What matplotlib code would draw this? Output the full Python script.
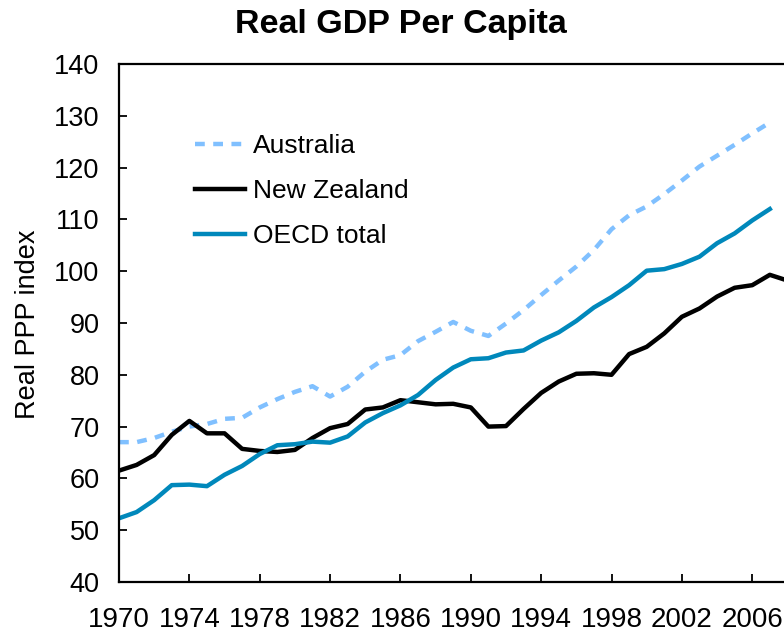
import numpy as np
import matplotlib
matplotlib.use('Agg')
import matplotlib.pyplot as plt

plt.rcParams['font.family'] = ['Liberation Sans', 'DejaVu Sans']

# Data (index values)
years_nz = list(range(1970, 2009))
new_zealand = [61.5, 62.6, 64.5, 68.4, 71.1, 68.7, 68.7, 65.7, 65.3, 65.1,
               65.5, 67.8, 69.7, 70.5, 73.3, 73.7, 75.1, 74.7, 74.3, 74.4,
               73.7, 70.0, 70.1, 73.4, 76.5, 78.7, 80.2, 80.3, 80.0, 84.0,
               85.4, 88.0, 91.2, 92.8, 95.1, 96.8, 97.3, 99.3, 98.2]

years = list(range(1970, 2008))
australia = [67.0, 67.0, 67.8, 69.0, 70.0, 70.5, 71.5, 71.7, 73.7, 75.3,
             76.7, 77.8, 75.8, 77.7, 80.6, 82.9, 83.8, 86.5, 88.3, 90.2,
             88.5, 87.5, 89.9, 92.5, 95.4, 98.2, 100.9, 104.1, 108.1, 110.8,
             112.5, 114.9, 117.5, 120.2, 122.3, 124.4, 126.6, 128.7]
oecd = [52.3, 53.5, 55.8, 58.7, 58.8, 58.5, 60.7, 62.4, 64.7, 66.4,
        66.6, 67.1, 66.9, 68.1, 70.8, 72.6, 74.1, 76.1, 79.0, 81.4,
        83.0, 83.2, 84.3, 84.7, 86.6, 88.2, 90.4, 93.0, 95.0, 97.3,
        100.1, 100.4, 101.4, 102.8, 105.4, 107.3, 109.8, 112.0]

tick_years = list(range(1970, 2007, 4))

fig = plt.figure(figsize=(7.84, 6.34), dpi=100)
# axes runs past the right edge of the figure, as in the reference
ax = fig.add_axes([119 / 784, 52 / 634, 686 / 784, 518 / 634])

ax.plot(years, australia, color='#80C0FF', lw=3.2, linestyle=(0, (2.2, 1.9)),
        dash_capstyle='butt', label='Australia')
ax.plot(years_nz, new_zealand, color='black', lw=3.2, label='New Zealand')
ax.plot(years, oecd, color='#0088BB', lw=3.2, label='OECD total')

ax.set_xlim(1970, 2009)
ax.set_ylim(40, 140)
ax.set_yticks(range(40, 141, 10))
ax.set_xticks(tick_years)

ax.tick_params(axis='both', direction='in', length=6, width=1.3)
ax.tick_params(axis='x', pad=18, labelsize=20)
ax.tick_params(axis='y', pad=14, labelsize=19.5)

for side in ['left', 'bottom', 'top']:
    ax.spines[side].set_linewidth(1.6)
ax.spines['right'].set_visible(False)

fig.text(401 / 784, 1 - 24 / 634, 'Real GDP Per Capita', ha='center', va='center',
         fontsize=24.5, fontweight='bold')
fig.text(28 / 784, 1 - 324 / 634, 'Real PPP index', rotation=90, ha='center',
         va='center', fontsize=19.5)

ax.legend(loc='upper left', bbox_to_anchor=(182 / 784, 1 - 121 / 634),
          bbox_transform=fig.transFigure, frameon=False, fontsize=19,
          handlelength=1.9, handletextpad=0.3, labelspacing=0.8, borderpad=0)

fig.savefig('out.png', dpi=100)
